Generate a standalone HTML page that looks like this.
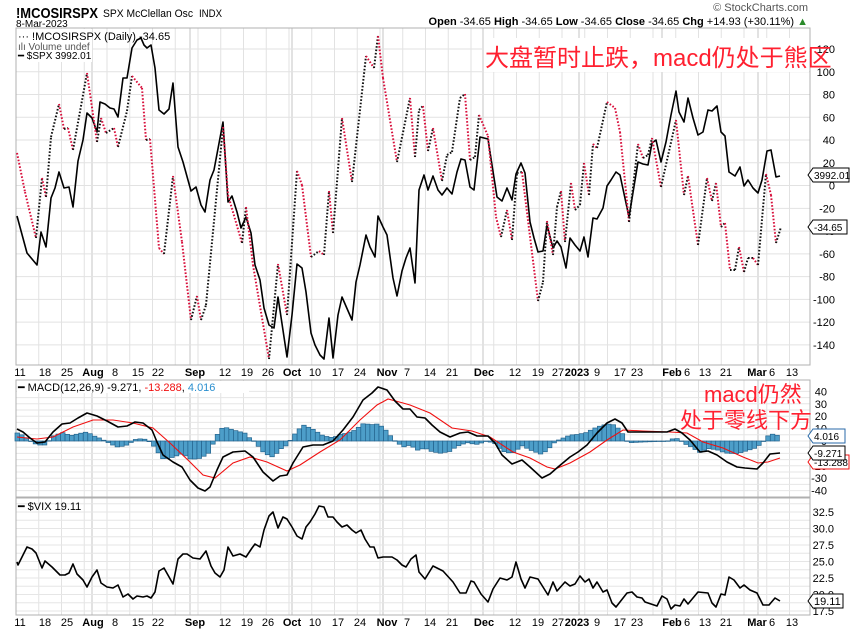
<!DOCTYPE html>
<html><head><meta charset="utf-8"><style>
body{margin:0;background:#fff;width:850px;height:633px;overflow:hidden;font-family:"Liberation Sans",sans-serif}
svg{position:absolute;left:0;top:0}
</style></head><body>
<svg id="s" width="850" height="633" xmlns="http://www.w3.org/2000/svg" font-family="Liberation Sans, sans-serif">
<text x="16" y="18" font-size="15" font-weight="bold" textLength="82" lengthAdjust="spacingAndGlyphs">!MCOSIRSPX</text>
<text x="103" y="17" font-size="11" textLength="90" lengthAdjust="spacingAndGlyphs">SPX McClellan Osc</text>
<text x="199" y="17" font-size="11" textLength="23" lengthAdjust="spacingAndGlyphs">INDX</text>
<text x="16" y="27" font-size="10">8-Mar-2023</text>
<text x="808" y="11" font-size="11" fill="#555" text-anchor="end">© StockCharts.com</text>
<text x="808" y="25" font-size="11" text-anchor="end"><tspan font-weight="bold">Open</tspan> -34.65 <tspan font-weight="bold">High</tspan> -34.65 <tspan font-weight="bold">Low</tspan> -34.65 <tspan font-weight="bold">Close</tspan> -34.65 <tspan font-weight="bold">Chg</tspan> +14.93 (+30.11%) <tspan fill="#2a8a2a">▲</tspan></text>
<g id="g"></g>
</svg>
<script>
const NS="http://www.w3.org/2000/svg",g=document.getElementById('g');
function el(t,a,txt){const e=document.createElementNS(NS,t);for(const k in a)e.setAttribute(k,a[k]);if(txt!=null)e.textContent=txt;g.appendChild(e);return e;}
const L=16,R=810;
const panels=[[28,365],[380,497],[498,615]];
const months=[92,190,292,383,483,579,662,758];
for(const [t,b] of panels){
 for(let x=L+22.75;x<R;x+=22.75){el('line',{x1:x,x2:x,y1:t,y2:b,stroke:'#e2e2e2','stroke-width':1});}
 for(const m of months)el('line',{x1:m,x2:m,y1:t,y2:b,stroke:'#c4c4c4','stroke-width':1});
}
function yM(v){return 49+(120-v)*1.138;}
for(let v=140;v>=-140;v-=20){const y=yM(v);if(y>28&&y<365)el('line',{x1:L,x2:R,y1:y,y2:y,stroke:'#e2e2e2'});if(v<=120)el('text',{x:835,y:y+4,'font-size':11,'text-anchor':'end'},v);}
function yD(v){return 441-v*1.24;}
for(let v=40;v>=-40;v-=5){const y=yD(v);el('line',{x1:L,x2:R,y1:y,y2:y,stroke:'#e6e6e6'});if(v%10==0)el('text',{x:827,y:y+4,'font-size':11,'text-anchor':'end'},v);}
function yV(v){return 611-(v-17.5)*6.6;}
for(let v=17.5;v<=35;v+=1.25){const y=yV(v);if(y>498)el('line',{x1:L,x2:R,y1:y,y2:y,stroke:'#e6e6e6'});}
for(let v=17.5;v<=32.5;v+=2.5){const y=yV(v);el('text',{x:834,y:y+4,'font-size':11,'text-anchor':'end'},v.toFixed(1));}
for(const [t,b] of panels)el('rect',{x:L,y:t,width:R-L,height:b-t,fill:'none',stroke:'#b0b0b0'});
const dl=[[20,'11'],[45,'18'],[67,'25'],[93,'Aug',1],[115,'8'],[138,'15'],[158,'22'],[195,'Sep',1],[225,'12'],[247,'19'],[268,'26'],[292,'Oct',1],[315,'10'],[338,'17'],[360,'24'],[387,'Nov',1],[407,'7'],[430,'14'],[452,'21'],[484,'Dec',1],[515,'12'],[538,'19'],[558,'27'],[577,'2023',1],[597,'9'],[620,'17'],[637,'23'],[672,'Feb',1],[687,'6'],[705,'13'],[726,'21'],[757,'Mar',1],[772,'6'],[792,'13']];
for(const yy of [376,626])for(const d of dl)el('text',{x:d[0],y:yy,'font-size':11,'text-anchor':'middle','font-weight':d[2]?'bold':'normal'},d[1]);
function pts(a){let s='';for(let i=0;i<a.length;i+=2)s+=a[i]+','+a[i+1]+' ';return s;}
const mc=[17,153,25,192,36,238,42,178,46,197,51,137,59,104,64,129,68,128,73,150,87,73,97,142,101,118,106,133,114,128,118,147,127,111,132,76,142,88,146,140,150,139,159,248,164,254,173,176,182,242,191,320,197,296,201,320,206,305,223,127,228,195,242,243,246,207,253,265,269,359,278,264,287,315,297,171,302,185,311,257,319,251,324,255,329,191,333,233,342,118,352,182,366,56,374,68,378,36,383,78,397,162,410,98,415,157,419,110,423,106,428,151,433,128,442,181,447,155,452,152,460,98,465,94,470,160,475,157,479,115,488,136,496,217,501,237,507,210,512,240,517,173,522,172,538,301,543,282,547,221,553,255,557,207,561,191,565,242,571,183,575,210,580,205,584,163,589,195,593,144,597,148,607,102,615,108,620,132,629,222,638,144,643,158,648,155,652,138,661,187,676,120,684,195,688,176,698,245,707,178,712,201,716,183,721,227,725,223,730,270,735,270,739,247,744,272,748,258,753,258,758,265,766,174,771,195,776,243,781,227];
const spx=[17,216,27,253,37,265,41,232,46,247,51,198,55,188,59,172,64,188,69,187,73,207,78,161,83,140,87,113,92,118,97,132,100,102,105,104,110,108,114,109,118,117,123,78,127,78,132,48,137,40,141,38,144,45,147,48,151,45,155,68,159,110,164,114,169,109,173,83,178,147,183,162,191,191,196,187,201,205,205,212,210,180,214,170,223,122,228,202,232,196,237,212,241,228,246,217,251,233,255,265,260,280,264,308,269,325,274,328,278,297,287,357,292,315,297,264,302,268,306,292,311,333,315,345,320,355,324,359,329,318,333,358,338,315,342,297,352,320,356,282,360,265,366,235,370,247,375,257,378,216,383,227,387,235,393,278,397,296,402,271,406,258,410,248,415,283,419,190,424,175,428,190,433,176,438,190,442,195,447,188,452,194,457,172,461,159,465,160,470,187,474,190,480,137,488,139,492,165,497,197,502,201,507,188,512,200,516,174,521,163,525,173,530,222,534,238,538,252,543,251,547,225,553,248,557,241,561,247,566,268,570,238,575,245,580,251,584,237,588,257,593,218,597,219,603,208,607,186,611,180,616,172,620,175,629,217,638,162,643,164,648,165,652,143,656,140,661,162,666,142,671,115,676,91,679,112,684,122,688,98,693,118,698,135,703,132,708,110,712,111,717,106,721,132,725,136,729,172,735,176,740,167,744,186,748,180,753,188,758,193,762,180,767,151,771,150,776,177,780,176];
el('polyline',{points:pts(spx),fill:'none',stroke:'#000','stroke-width':1.6,'stroke-linejoin':'round'});
for(let i=0;i<mc.length-2;i+=2){el('line',{x1:mc[i],y1:mc[i+1],x2:mc[i+2],y2:mc[i+3],stroke:mc[i+3]>mc[i+1]?'#d8103c':'#111','stroke-width':2,'stroke-dasharray':'1.6 1.8'});}
const md=[17,429,23,432,30,438,37,443,45,442,53,432,62,424,70,423,78,418,87,413,97,416,107,421,118,427,127,426,135,422,143,423,152,430,157,442,163,455,173,462,182,467,190,480,198,488,205,491,210,487,217,470,223,457,233,452,245,451,253,457,263,472,273,481,280,476,287,475,293,463,303,447,313,445,323,445,333,441,343,430,353,417,363,400,372,393,378,387,387,390,395,401,403,409,410,409,417,417,425,418,432,425,440,432,450,437,460,433,468,432,477,436,488,436,495,443,502,455,512,464,522,460,530,467,542,478,550,474,558,467,570,457,578,452,587,445,597,433,607,423,615,419,622,423,628,432,640,432,650,432,658,432,667,432,675,429,682,433,690,440,700,452,708,451,717,455,727,462,737,467,745,468,757,469,763,463,770,454,780,453];
const sg=[17,437,37,439,53,437,73,427,93,420,113,420,133,423,153,428,170,443,190,462,203,475,215,478,233,463,250,457,267,462,287,471,300,465,320,452,340,440,360,420,377,405,388,399,403,403,410,405,430,413,452,428,472,431,490,437,513,452,530,458,547,467,555,469,570,463,590,452,607,440,623,430,643,431,670,432,687,433,703,442,723,448,743,457,758,463,768,462,780,458];
function interp(a,x){for(let i=0;i<a.length-2;i+=2){if(x<=a[i+2]){const t=(x-a[i])/(a[i+2]-a[i]);return a[i+1]+t*(a[i+3]-a[i+1]);}}return a[a.length-1];}
for(let x=17;x<=780;x+=4.55){let h=(interp(md,x)-interp(sg,x))*1.0;const y0=441,y1=441+h;el('rect',{x:x-2,y:Math.min(y0,y1),width:4.55,height:Math.max(0.5,Math.abs(h)),fill:'#4d9ec9',stroke:'#23638d','stroke-width':0.7});}
el('polyline',{points:pts(sg),fill:'none',stroke:'#f01010','stroke-width':1.1});
el('polyline',{points:pts(md),fill:'none',stroke:'#000','stroke-width':1.6,'stroke-linejoin':'round'});
const vx=[17,562,18,565,27,547,32,549,36,553,42,568,45,561,52,567,60,575,65,575,69,573,73,564,77,574,83,580,87,587,92,577,97,570,101,583,107,587,113,588,118,585,123,597,128,594,133,599,137,596,143,597,147,596,151,598,155,592,159,571,164,568,173,584,178,559,183,554,187,554,193,558,200,559,206,551,211,566,215,573,220,577,224,570,228,547,233,556,240,554,246,557,252,548,255,544,260,547,264,530,269,516,273,512,278,528,283,517,287,519,292,527,297,536,302,539,306,527,310,522,315,514,319,506,324,507,328,517,333,517,337,522,342,527,347,525,352,530,356,533,361,530,365,539,370,547,374,547,378,558,383,557,392,557,397,560,402,565,406,567,411,559,416,555,419,572,425,579,433,566,443,571,453,582,460,593,466,593,471,581,474,582,481,594,488,602,493,589,500,578,507,580,512,577,516,562,521,579,525,588,530,577,538,579,548,595,553,582,557,591,565,582,570,586,575,584,580,576,585,582,589,579,593,588,597,582,603,592,607,590,612,603,616,607,627,593,632,592,637,597,642,598,645,602,657,606,662,596,667,599,671,609,675,605,680,606,684,599,688,604,698,592,708,593,712,603,716,607,721,594,725,595,729,577,734,580,740,588,744,585,750,590,757,593,763,605,769,605,775,598,780,601];
el('polyline',{points:pts(vx),fill:'none',stroke:'#000','stroke-width':1.6,'stroke-linejoin':'round'});
el('rect',{x:17,y:29,width:75,height:33,fill:'#fff'});
el('text',{x:18,y:40,'font-size':11},'··· !MCOSIRSPX (Daily) -34.65');
el('text',{x:18,y:50,'font-size':10,fill:'#555'},'ılı Volume undef');
el('text',{x:18,y:59,'font-size':10},'━ $SPX 3992.01');
el('rect',{x:17,y:381,width:232,height:12,fill:'#fff'});
const t=el('text',{x:18,y:391,'font-size':11},null);
t.innerHTML='<tspan>━ MACD(12,26,9) -9.271, </tspan><tspan fill="#f01010">-13.288</tspan><tspan>, </tspan><tspan fill="#2a8fcf">4.016</tspan>';
el('text',{x:18,y:510,'font-size':11},'━ $VIX 19.11');
function box(x,y,w,txt,col,fs){el('path',{d:`M${x} ${y} l5 -7 h${w} v14 h-${w} z`,fill:'#fff',stroke:col});el('text',{x:x+6,y:y+4,'font-size':fs||10,fill:'#000'},txt);}
box(808,175,36,'3992.01','#000');
box(808,227,34,'-34.65','#000');
box(808,436,32,'4.016','#2a6aa8');
box(808,462,36,'-13.288','#f01010');
box(808,453,32,'-9.271','#000');
box(808,601,30,'19.11','#000',11);
el('rect',{x:484,y:38,width:325,height:34,fill:'#fff'});
el('text',{x:485,y:66,'font-size':24,fill:'#ff2030','font-family':'Liberation Sans, Noto Sans CJK SC, sans-serif'},'大盘暂时止跌，macd仍处于熊区');
el('text',{x:704,y:402,'font-size':22,fill:'#ff2030','font-family':'Liberation Sans, Noto Sans CJK SC, sans-serif'},'macd仍然');
el('text',{x:680,y:428,'font-size':22,fill:'#ff2030','font-family':'Liberation Sans, Noto Sans CJK SC, sans-serif'},'处于零线下方');
</script>
</body></html>
